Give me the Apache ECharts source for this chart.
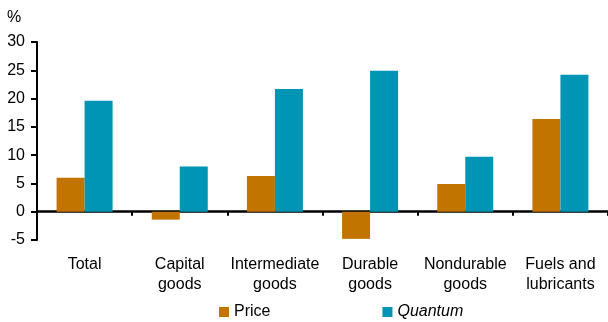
<!DOCTYPE html>
<html>
<head>
<meta charset="utf-8">
<script src="https://cdn.jsdelivr.net/npm/echarts@6/dist/echarts.min.js"></script>
<style>
  html, body { margin: 0; padding: 0; background: #fff; }
  #chart { width: 608px; height: 322px; }
</style>
</head>
<body>
<div id="chart"></div>
<script>
// Import growth by product group, percent
const categories = ['Total', 'Capital\ngoods', 'Intermediate\ngoods', 'Durable\ngoods', 'Nondurable\ngoods', 'Fuels and\nlubricants'];
const priceValues = [6.0, -1.4, 6.3, -4.8, 4.9, 16.4];
const quantumValues = [19.6, 8.0, 21.7, 24.9, 9.7, 24.2];
const yTicks = { min: -5, max: 30, step: 5 };

const FONT = 'Liberation Sans, Arial, sans-serif';
const ORANGE = '#C27400';
const TEAL = '#0095B5';

const chart = echarts.init(document.getElementById('chart'), null, { renderer: 'canvas' });

chart.setOption({
  animation: false,
  backgroundColor: '#fff',
  grid: { left: 37, right: -5, top: 42, bottom: 82, containLabel: false },
  graphic: [{
    type: 'text', left: 7, top: 10,
    style: { text: '%', font: '16px ' + FONT, fill: '#000' }
  }],
  legend: {
    left: 219, top: 304, padding: 0,
    itemWidth: 10, itemHeight: 10, itemGap: 112,
    icon: 'rect',
    textStyle: { fontFamily: FONT, fontSize: 16, color: '#000' },
    data: [
      { name: 'Price' },
      { name: 'Quantum', textStyle: { fontStyle: 'italic' } }
    ]
  },
  xAxis: {
    type: 'category',
    data: categories,
    axisLine: { onZero: true, lineStyle: { color: '#000', width: 2.5 } },
    axisTick: { show: true, length: 4, lineStyle: { color: '#000', width: 2 } },
    axisLabel: {
      margin: 15, color: '#000', fontFamily: FONT, fontSize: 16, lineHeight: 20, interval: 0
    },
    splitLine: { show: false }
  },
  yAxis: {
    type: 'value',
    min: yTicks.min, max: yTicks.max, interval: yTicks.step,
    axisLine: { show: true, lineStyle: { color: '#000', width: 2 } },
    axisTick: { show: true, length: 6, inside: false, lineStyle: { color: '#000', width: 2 } },
    axisLabel: { margin: 12, color: '#000', fontFamily: FONT, fontSize: 16 },
    splitLine: { show: false }
  },
  series: [
    {
      name: 'Price', type: 'bar', data: priceValues,
      barWidth: 28, barGap: '0%',
      itemStyle: { color: ORANGE }
    },
    {
      name: 'Quantum', type: 'bar', data: quantumValues,
      barWidth: 28, barGap: '0%',
      itemStyle: { color: TEAL }
    }
  ]
});
</script>
</body>
</html>
